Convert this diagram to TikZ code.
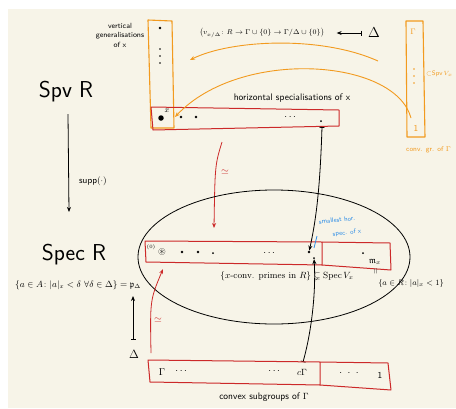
\documentclass[tikz,border=0pt]{standalone}
\usepackage{amsmath,amssymb}
\usetikzlibrary{arrows.meta,calc,shapes.geometric}
\definecolor{cream}{HTML}{F7F4E8}
\definecolor{hor}{HTML}{F29A1E}
\definecolor{hred}{HTML}{CC2929}
\definecolor{hblue}{HTML}{2B8CE6}
\tikzset{
  redbox/.style={draw=hred, line width=1pt, line join=round},
  orbox/.style={draw=hor, line width=1.1pt, line join=round},
  pt/.style={circle, fill=black, inner sep=0pt, minimum size=2.6pt},
  vdot/.style={circle, fill=black, inner sep=0pt, minimum size=1.6pt},
  bigpt/.style={circle, fill=black, inner sep=0pt, minimum size=5.5pt},
  lbl/.style={font=\sffamily\fontsize{8}{9}\selectfont, inner sep=0pt},
  tiny/.style={font=\sffamily\fontsize{6}{7}\selectfont, inner sep=0pt},
  big/.style={font=\sffamily\fontsize{23}{25}\selectfont, inner sep=0pt},
  bluetxt/.style={inner sep=0pt, text=hblue, rotate=6, font=\sffamily\fontsize{6.5}{7.5}\selectfont},
  arr/.style={-{Stealth[length=5pt,width=4pt]}, line width=0.8pt},
  maparr/.style={{Bar[width=5pt]}-{Stealth[length=5pt,width=4pt]}, line width=0.8pt},
  redarr/.style={arr, draw=hred},
  orarr/.style={arr, draw=hor, line width=0.9pt},
}
\begin{document}
\begin{tikzpicture}[x=1pt,y=-1pt]
\useasboundingbox (0,0) rectangle (456,408);
\clip (0,0) rectangle (456,408);
\fill[white] (0,0) rectangle (456,408);
\fill[cream] (8,9) rectangle (456,408);

% left column
\node[big] (spv) at (66,92) {Spv R};
\node[big] (spec) at (74,255) {Spec R};
\coordinate (suppTop) at (68,114);
\coordinate (suppBot) at (69,212);
\draw[arr] (suppTop) -- (suppBot);
\node[lbl, font=\sffamily\fontsize{9}{10}\selectfont] (supp) at (93,181) {supp$(\cdot)$};
\node[inner sep=0pt, font=\fontsize{9}{10}\selectfont] (pD) at (78,285) {$\{a\in A\colon |a|_x<\delta\ \forall\delta\in\Delta\}=\mathfrak{p}_\Delta$};
\node[inner sep=0pt, font=\fontsize{13}{14}\selectfont] (Dl) at (134,354) {$\Delta$};
\coordinate (DlTop) at (133,340);
\coordinate (pDTip) at (133,296);
\draw[maparr] (DlTop) -- (pDTip);

% vertical generalisations
\draw[orbox] (148,20) -- (172,21) -- (174,128) -- (151,128) -- cycle;
\node[pt] (vtop) at (160,28) {};
\node[vdot] (vd1) at (160,49) {};
\node[vdot] (vd2) at (160,56) {};
\node[vdot] (vd3) at (160,63) {};
\node[tiny, align=center, font=\sffamily\fontsize{7.5}{9.5}\selectfont] (vgen) at (120,35) {vertical\\generalisations\\of x};

% horizontal specialisations
\draw[redbox] (151,107) -- (339,110) -- (339,126) -- (153,130) -- cycle;
\node[bigpt] (x) at (161,118) {};
\node[inner sep=0pt, font=\fontsize{8}{9}\selectfont] (xl) at (167,111) {$x$};
\node[pt] (h1) at (181,117) {};
\node[pt] (h2) at (196,117) {};
\node[inner sep=0pt] (hdots) at (291,117) {$\cdots$};
\node[pt, minimum size=2pt] (hend) at (321,121) {};
\coordinate (hbar) at (322,127);
\node[lbl, font=\sffamily\fontsize{9.5}{10}\selectfont] (htext) at (292,98) {horizontal specialisations of x};

% top formula
\node[inner sep=0pt, font=\fontsize{7.5}{9}\selectfont] (val) at (262,33) {$\bigl(v_{x/\Delta}\colon R\to\Gamma\cup\{0\}\to\Gamma/\Delta\cup\{0\}\bigr)$};
\node[inner sep=0pt, font=\fontsize{14}{15}\selectfont] (Dt) at (374,33) {$\Delta$};
\draw[{Stealth[length=5pt,width=4pt]}-{Bar[width=5pt]}, line width=0.8pt] ($(val.east)+(12,0)$) -- ($(Dt.west)+(-6,0)$);

% orange curves
\coordinate (c1s) at (378,61);
\coordinate (c1e) at (190,60);
\draw[orarr] (c1s) .. controls (320,35) and (230,40) .. (c1e);
\coordinate (c2s) at (411,118);
\coordinate (c2e) at (175,117);
\draw[orarr] (c2s) .. controls (395,58) and (240,48) .. (c2e);

% right orange column
\draw[orbox] (406,21) -- (423,21) -- (425,137) -- (407,137) -- cycle;
\node[inner sep=0pt, text=hor, font=\fontsize{8}{9}\selectfont] (G) at (413,32) {$\Gamma$};
\node[vdot, fill=hor] (rd1) at (414,69) {};
\node[vdot, fill=hor] (rd2) at (414,76) {};
\node[vdot, fill=hor] (rd3) at (414,83) {};
\node[inner sep=0pt, text=hor, font=\sffamily\fontsize{9}{10}\selectfont] (one) at (416,128) {1};
\node[inner sep=0pt, text=hor, anchor=west, font=\sffamily\fontsize{6.5}{8}\selectfont] (spvv) at (426,74) {$\subset$Spv\,$V_x$};
\node[inner sep=0pt, text=hor, anchor=west, font=\sffamily\fontsize{7}{8}\selectfont] (convgr) at (406,150) {conv. gr. of $\Gamma$};

% red iso arrow 1
\coordinate (r1s) at (222,142);
\coordinate (r1e) at (214,228);
\draw[redarr] (r1s) .. controls (215,165) .. (r1e);
\node[inner sep=0pt, text=hred] (iso1) at (225,172) {$\simeq$};

% ellipse
\node[draw, line width=0.8pt, ellipse, minimum width=272pt, minimum height=134pt, inner sep=0pt] (E) at (274,257) {};

% lower red box
\draw[redbox] (145,241) -- (322,242) -- (322,265) -- (146,262) -- cycle;
\draw[redbox] (322,242) -- (390,243) -- (391,270) -- (322,265);
\node[inner sep=0pt, font=\fontsize{5}{6}\selectfont] (zero) at (151,247) {$(0)$};
\node[inner sep=0pt] (cd) at (162,252) {$\circledast$};
\node[pt] (s1) at (182,252) {};
\node[pt] (s2) at (198,252) {};
\node[pt, minimum size=2pt] (s3) at (213,253) {};
\node[inner sep=0pt] (sdots) at (270,253) {$\cdots$};
\node[pt] (sp) at (309,252) {};
\node[pt, minimum size=2pt] (sq) at (314,258) {};
\node[pt, minimum size=2pt] (mdot) at (363,253) {};
\node[inner sep=0pt, font=\fontsize{9}{10}\selectfont] (mx) at (375,262) {$\mathfrak{m}_x$};

% blue label
\node[bluetxt] (small1) at (337,220) {smallest hor.};
\node[bluetxt] (small2) at (347,233) {spec. of x};
\coordinate (bl1) at (317,236);
\coordinate (bl2) at (314,248);
\draw[hblue, line width=0.8pt] (bl1) -- (bl2);

% black map arrows
\draw[maparr] (hbar) .. controls (320,190) and (316,220) .. (sp);
\coordinate (cGtop) at (303,362);
\draw[maparr] (cGtop) .. controls (312,330) and (316,290) .. (sq);

% texts under box
\node[inner sep=0pt, font=\fontsize{9}{10}\selectfont] (xconv) at (287,276) {$\{x\text{-conv. primes in }R\}\subsetneq\operatorname{Spec}V_x$};
\node[inner sep=0pt, rotate=90, font=\fontsize{7}{8}\selectfont] (eqv) at (376,271) {$=$};
\node[inner sep=0pt, font=\fontsize{8.5}{9}\selectfont] (aset) at (411,283) {$\{a\in R\colon |a|_x<1\}$};

% red iso arrow 2
\coordinate (r2s) at (151,353);
\coordinate (r2e) at (163,269);
\draw[redarr] (r2s) .. controls (150,300) .. (r2e);
\node[inner sep=0pt, text=hred] (iso2) at (158,320) {$\simeq$};

% bottom red box
\draw[redbox] (148,360) -- (320,362) -- (320,385) -- (150,382) -- cycle;
\draw[redbox] (320,362) -- (388,363) -- (391,390) -- (320,385);
\node[inner sep=0pt, font=\fontsize{10}{11}\selectfont] (bG) at (162,372) {$\Gamma$};
\node[inner sep=0pt] (bd1) at (182,371) {$\cdots$};
\node[inner sep=0pt] (bd2) at (275,371) {$\cdots$};
\node[inner sep=0pt, font=\fontsize{9}{10}\selectfont] (cG) at (302,372) {$c\Gamma$};
\node[inner sep=0pt] (bd3) at (349,373) {$\cdot\ \cdot\ \cdot$};
\node[inner sep=0pt, font=\sffamily\fontsize{9}{10}\selectfont] (b1) at (380,375) {1};
\node[lbl, font=\sffamily\fontsize{9.5}{10}\selectfont] (convsub) at (264,397) {convex subgroups of $\Gamma$};
\end{tikzpicture}
\end{document}
